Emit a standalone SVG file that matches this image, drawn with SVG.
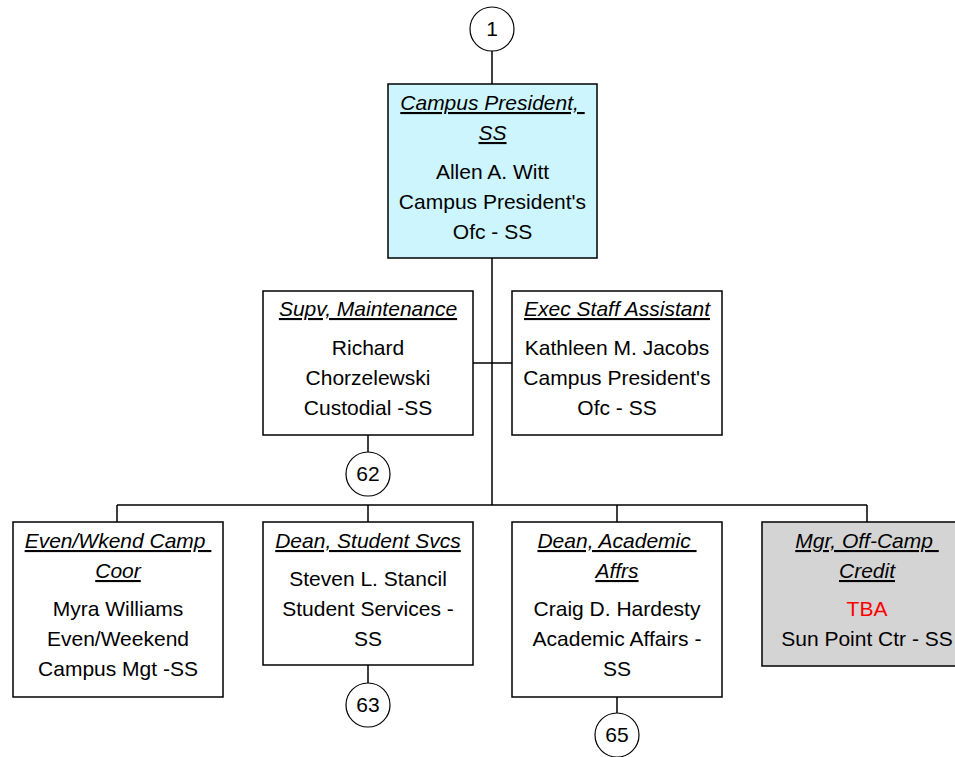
<svg xmlns="http://www.w3.org/2000/svg" width="955" height="757" viewBox="0 0 955 757">
<style>
.box{fill:#fff;stroke:#000;stroke-width:1.5}
.cir{fill:#fff;stroke:#000;stroke-width:1.2}
.ln{fill:none;stroke:#000;stroke-width:1.5}
text{font-family:"Liberation Sans",Arial,sans-serif;font-size:21px;text-anchor:middle;fill:#000}
.t{font-style:italic;text-decoration:underline;white-space:pre}
.red{fill:#ff0000}
</style>
<rect width="955" height="757" fill="#fff"/>
<g id="connectors">
<path class="ln" d="M492 51V84M492 258V505M473 363H512M117 505H867M117 505V522M368 505V522M617 505V522M867 505V522M368 435V452M368 665V683M617 697V713"/>
</g>
<g id="c1"><circle class="cir" cx="492" cy="29" r="22"/><text x="492" y="36">1</text></g>
<g id="president">
<rect class="box" x="388" y="84" width="209" height="174" style="fill:#ccf5fd"/>
<text class="t" x="492.5" y="110" xml:space="preserve">Campus President, </text>
<text class="t" x="492.5" y="140">SS</text>
<text x="492.5" y="179">Allen A. Witt</text>
<text x="492.5" y="209">Campus President's</text>
<text x="492.5" y="239">Ofc - SS</text>
</g>
<g id="supv">
<rect class="box" x="263" y="291" width="210" height="144"/>
<text class="t" x="368" y="316">Supv, Maintenance</text>
<text x="368" y="355">Richard</text>
<text x="368" y="385">Chorzelewski</text>
<text x="368" y="415">Custodial -SS</text>
</g>
<g id="exec">
<rect class="box" x="512" y="291" width="210" height="144"/>
<text class="t" x="617" y="316">Exec Staff Assistant</text>
<text x="617" y="355">Kathleen M. Jacobs</text>
<text x="617" y="385">Campus President's</text>
<text x="617" y="415">Ofc - SS</text>
</g>
<g id="c62"><circle class="cir" cx="368" cy="474" r="22"/><text x="368" y="481">62</text></g>
<g id="evenwkend">
<rect class="box" x="13" y="522" width="210" height="175"/>
<text class="t" x="118" y="548" xml:space="preserve">Even/Wkend Camp </text>
<text class="t" x="118" y="578">Coor</text>
<text x="118" y="616">Myra Williams</text>
<text x="118" y="646">Even/Weekend</text>
<text x="118" y="676">Campus Mgt -SS</text>
</g>
<g id="deanss">
<rect class="box" x="263" y="522" width="210" height="143"/>
<text class="t" x="368" y="548">Dean, Student Svcs</text>
<text x="368" y="586">Steven L. Stancil</text>
<text x="368" y="616">Student Services -</text>
<text x="368" y="646">SS</text>
</g>
<g id="c63"><circle class="cir" cx="368" cy="705" r="22"/><text x="368" y="712">63</text></g>
<g id="deanaa">
<rect class="box" x="512" y="522" width="210" height="175"/>
<text class="t" x="617" y="548" xml:space="preserve">Dean, Academic </text>
<text class="t" x="617" y="578">Affrs</text>
<text x="617" y="616">Craig D. Hardesty</text>
<text x="617" y="646">Academic Affairs -</text>
<text x="617" y="676">SS</text>
</g>
<g id="c65"><circle class="cir" cx="617" cy="735" r="22"/><text x="617" y="742">65</text></g>
<g id="mgr">
<rect class="box" x="762" y="522" width="210" height="144" style="fill:#d4d4d4"/>
<text class="t" x="867" y="548" xml:space="preserve">Mgr, Off-Camp </text>
<text class="t" x="867" y="578">Credit</text>
<text class="red" x="867" y="616">TBA</text>
<text x="867" y="646">Sun Point Ctr - SS</text>
</g>
</svg>
